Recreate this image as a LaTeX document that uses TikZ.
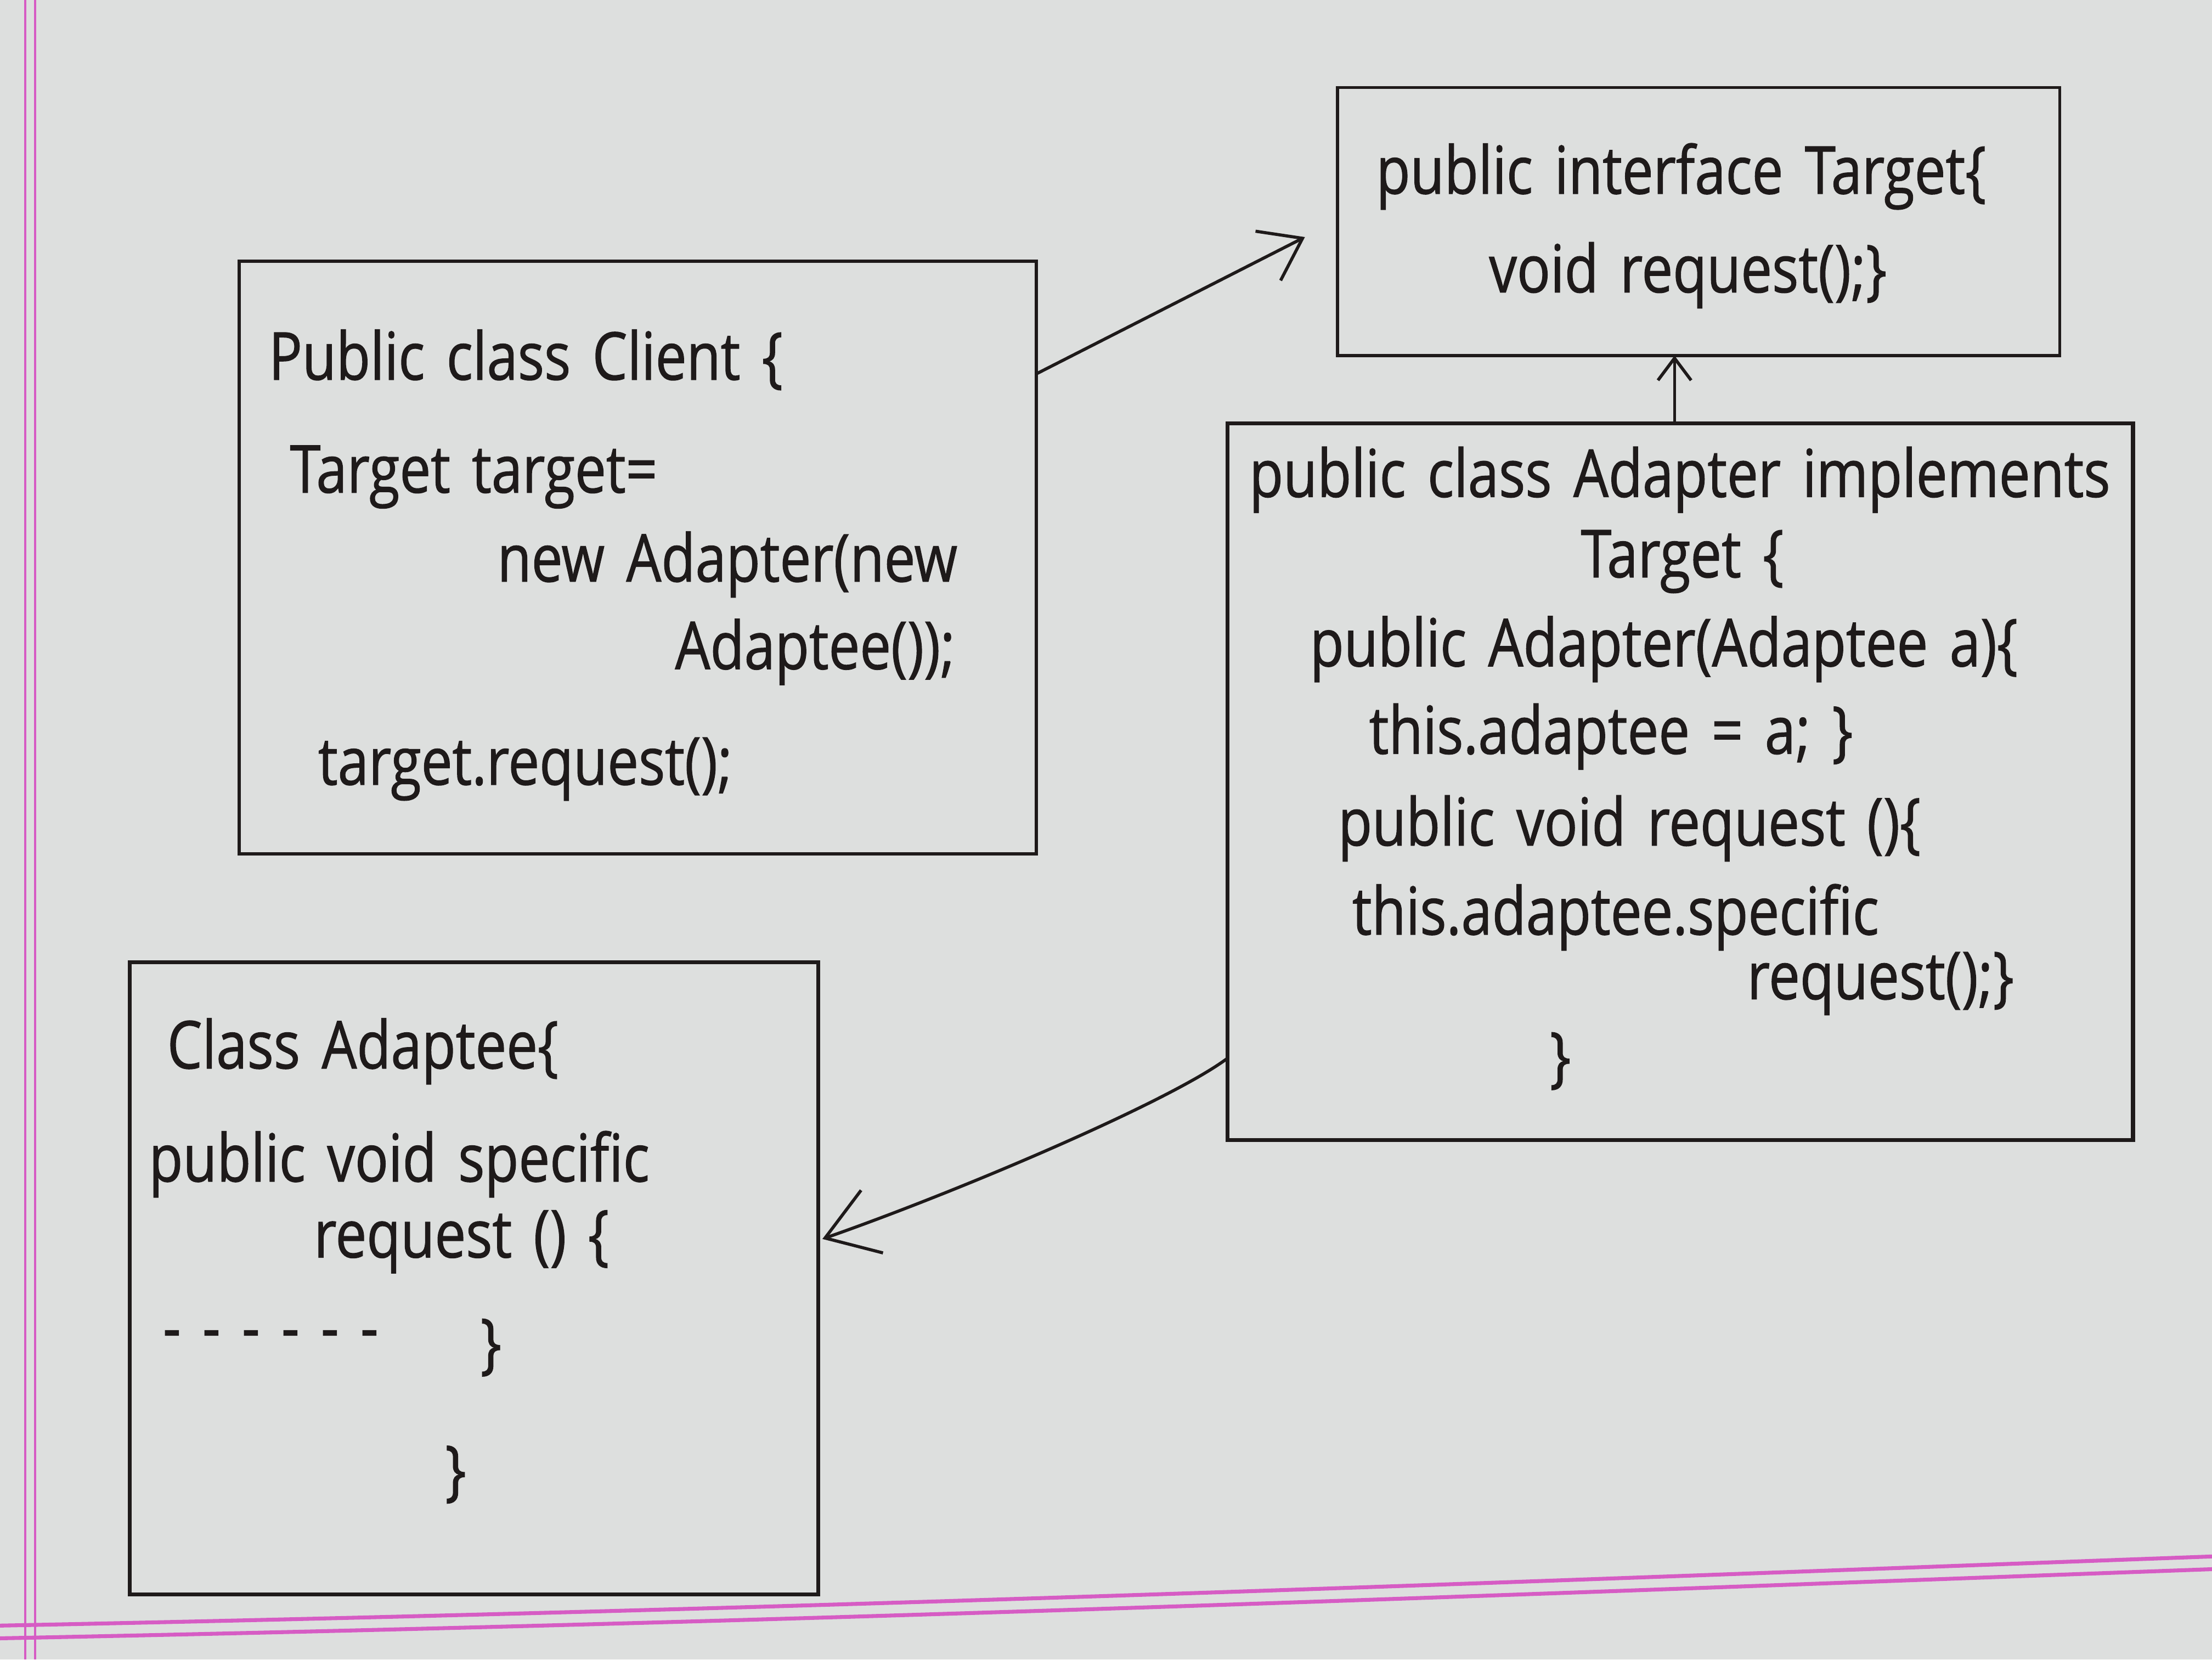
\documentclass[tikz,border=0pt]{standalone}
\usepackage{fontspec}
\newfontfamily\hand[FakeStretch=0.84, FakeBold=1, WordSpace=1.5]{Open Sans}
\usetikzlibrary{arrows.meta,calc}

\definecolor{paper}{RGB}{221,223,222}
\definecolor{ink}{RGB}{30,26,26}
\definecolor{margin}{RGB}{214,92,196}

\begin{document}
\begin{tikzpicture}[x=0.012755cm,y=-0.012755cm,
    box/.style={draw=ink, line width=0.8pt, inner sep=0pt, outer sep=0pt},
    code/.style={anchor=west, inner sep=0pt, text=ink, font=\hand\fontsize{17}{20}\selectfont},
    arr/.style={ink, line width=0.8pt, -{Straight Barb[length=3.5mm,width=5mm]}}]
    \useasboundingbox (0,0) rectangle (1568,1176);
    \fill[paper] (0,0) rectangle (1568,1176);

    % margin lines of the paper
    \draw[margin, line width=0.6pt] (18,0) -- (18,1176);
    \draw[margin, line width=0.6pt] (25,0) -- (25,1176);
    \draw[margin, line width=1pt] (0,1152) .. controls (600,1140) and (1100,1120) .. (1568,1103);
    \draw[margin, line width=1pt] (0,1161) .. controls (600,1149) and (1100,1129) .. (1568,1112);

    % boxes
    \node[box, minimum width=7.207cm, minimum height=5.357cm] (client) at (452,395) {};
    \node[box, minimum width=6.531cm, minimum height=2.423cm] (target) at (1204,157) {};
    \node[box, line width=1pt, minimum width=8.189cm, minimum height=6.480cm] (adapter) at (1191,554) {};
    \node[box, line width=1pt, minimum width=6.224cm, minimum height=5.714cm] (adaptee) at (336,906) {};

    % Target
    \node[code] (t1) at (975,125) {public interface Target\{};
    \node[code] (t2) at (1055,195) {void request();\}};

    % Client
    \node[code] (c1) at (190,255) {Public class Client \{};
    \node[code] (c2) at (205,338) {Target target=};
    \node[code] (c3) at (352,400) {new Adapter(new};
    \node[code] (c4) at (478,462) {Adaptee());};
    \node[code] (c5) at (225,545) {target.request();};

    % Adapter
    \node[code] (a1) at (885,340) {public class Adapter implements};
    \node[code] (a2) at (1120,398) {Target \{};
    \node[code] (a3) at (928,460) {public Adapter(Adaptee a)\{};
    \node[code] (a4) at (970,522) {this.adaptee = a; \}};
    \node[code] (a5) at (948,587) {public void request ()\{};
    \node[code] (a6) at (958,650) {this.adaptee.specific};
    \node[code] (a7) at (1238,697) {request();\}};
    \node[code] (a8) at (1098,752) {\}};

    % Adaptee
    \node[code] (e1) at (118,745) {Class Adaptee\{};
    \node[code] (e2) at (105,825) {public void specific};
    \node[code] (e3) at (222,880) {request () \{};
    \node[code] (e4) at (115,950) {- - - - - -};
    \node[code] (e5) at (340,955) {\}};
    \node[code] (e6) at (315,1045) {\}};

    % arrows
    \coordinate (up) at (1187,0);
    \draw[arr] ($(client.east)+(0,-130)$) -- ($(target.west)+(-23,11)$);
    \draw[arr, -{Straight Barb[length=2mm,width=3mm]}] (adapter.north -| up) -- (target.south -| up);
    \draw[arr, -{Straight Barb[length=4.5mm,width=6mm]}] ($(adapter.west)+(0,196)$) .. controls +(-40,30) and +(100,-35) .. ($(adaptee.east)+(3,-28)$);
\end{tikzpicture}
\end{document}
